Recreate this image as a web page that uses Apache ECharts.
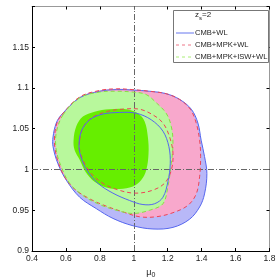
<!DOCTYPE html>
<html><head><meta charset="utf-8">
<script src="https://cdn.jsdelivr.net/npm/echarts@6/dist/echarts.min.js"></script>
<style>html,body{margin:0;padding:0;background:#fff}#c{width:277px;height:277px}</style>
</head><body><div id="c"></div>
<script>
const xTicks = [0.4,0.6,0.8,1,1.2,1.4,1.6,1.8];
const yTicks = [0.9,0.95,1,1.05,1.1,1.15,1.2];
const legendNames = ['CMB+WL','CMB+MPK+WL','CMB+MPK+ISW+WL'];

// CMB+WL 95%
const blueOuter = [[0.573,1.067],[0.681,1.088],[0.799,1.096],[0.897,1.098],[0.995,1.0975],[1.093,1.096],[1.191,1.093],[1.270,1.086],[1.339,1.074],[1.378,1.057],[1.397,1.036],[1.417,1.016],[1.431,0.995],[1.417,0.970],[1.388,0.954],[1.329,0.939],[1.231,0.929],[1.113,0.927],[0.995,0.931],[0.877,0.940],[0.779,0.952],[0.681,0.966],[0.602,0.987],[0.553,1.007],[0.524,1.028],[0.524,1.040],[0.543,1.057]];
// CMB+MPK+WL 95%
const pinkOuter = [[0.575,1.067],[0.681,1.089],[0.799,1.097],[0.897,1.099],[0.995,1.098],[1.093,1.096],[1.191,1.093],[1.270,1.086],[1.333,1.074],[1.368,1.057],[1.388,1.036],[1.394,1.016],[1.388,0.991],[1.368,0.970],[1.319,0.956],[1.231,0.947],[1.132,0.942],[1.034,0.942],[0.936,0.948],[0.838,0.955],[0.740,0.964],[0.651,0.976],[0.592,0.991],[0.553,1.010],[0.534,1.028],[0.534,1.043],[0.547,1.057]];
// CMB+MPK+ISW+WL 95%
const greenOuter = [[0.583,1.067],[0.681,1.088],[0.799,1.095],[0.897,1.096],[0.995,1.095],[1.073,1.092],[1.132,1.082],[1.191,1.069],[1.221,1.053],[1.231,1.032],[1.221,1.007],[1.201,0.979],[1.172,0.958],[1.093,0.950],[0.995,0.946],[0.897,0.950],[0.799,0.957],[0.700,0.968],[0.622,0.983],[0.573,1.003],[0.543,1.024],[0.543,1.045]];
// CMB+MPK+ISW+WL 68%
const greenInner = [[0.645,1.036],[0.661,1.053],[0.700,1.065],[0.769,1.071],[0.857,1.074],[0.956,1.074],[1.024,1.069],[1.064,1.059],[1.083,1.040],[1.087,1.020],[1.073,0.999],[1.044,0.987],[0.995,0.979],[0.916,0.976],[0.838,0.978],[0.769,0.985],[0.716,0.997],[0.681,1.012],[0.651,1.024]];
// CMB+MPK+WL 68%
const pinkInner = [[0.681,1.036],[0.700,1.051],[0.749,1.063],[0.838,1.071],[0.936,1.074],[1.034,1.074],[1.113,1.067],[1.172,1.057],[1.211,1.040],[1.231,1.020],[1.221,0.999],[1.181,0.983],[1.103,0.974],[1.005,0.971],[0.907,0.975],[0.818,0.983],[0.749,0.995],[0.704,1.010],[0.681,1.024]];
// CMB+WL 68%
const blueInner = [[0.677,1.028],[0.691,1.047],[0.740,1.061],[0.818,1.068],[0.916,1.070],[1.015,1.069],[1.103,1.061],[1.172,1.047],[1.207,1.028],[1.215,1.007],[1.201,0.985],[1.172,0.966],[1.123,0.958],[1.054,0.957],[0.975,0.962],[0.877,0.971],[0.789,0.983],[0.724,0.999],[0.691,1.014]];

const FONT = '"Liberation Sans",Arial,Helvetica,sans-serif';

function poly(pts, fill, stroke, dash, z) {
  return {
    type: 'custom', coordinateSystem: 'cartesian2d', silent: true, z: z,
    data: [pts[0]],
    renderItem: function (params, api) {
      return {
        type: 'polygon',
        shape: { points: pts.map(p => api.coord(p)), smooth: 0.35 },
        style: { fill: fill, stroke: stroke, lineWidth: 1, lineDash: dash }
      };
    }
  };
}

const chart = echarts.init(document.getElementById('c'), null, { renderer: 'canvas' });
const axisBase = {
  axisTick: { inside: true, length: 3, lineStyle: { color: '#000' } },
  splitLine: { show: false },
  axisLabel: { fontFamily: FONT, fontSize: 8.5, color: '#222', margin: 3 }
};
const legendColors = ['#6677ee', '#ee7788', '#aaee77'];
const legendDash = [null, [3, 3], [3, 3]];
const legendGraphics = [
  { type: 'rect', left: 173, top: 10, shape: { width: 95, height: 52 }, style: { fill: '#fff', stroke: '#777', lineWidth: 1 }, z: 100 },
  { type: 'text', left: 195, top: 11, style: { rich: { a: { fontFamily: FONT, fontSize: 8, fill: '#222' }, b: { fontFamily: FONT, fontSize: 6, fill: '#222', padding: [6, 0, 0, 0] } }, text: '{a|z}{b|s}{a|=2}' }, z: 101 }
];
legendNames.forEach((n, i) => {
  const y = 33 + i * 12;
  legendGraphics.push({ type: 'line', shape: { x1: 176, y1: y, x2: 194, y2: y }, style: { stroke: legendColors[i], lineWidth: 1, lineDash: legendDash[i] }, z: 101 });
  legendGraphics.push({ type: 'text', left: 195, top: y - 4.5, style: { text: n, fontFamily: FONT, fontSize: 7.6, fill: '#222' }, z: 101 });
});

chart.setOption({
  animation: false,
  grid: { left: 32, right: 7.5, top: 6.5, bottom: 26, containLabel: false, outerBoundsMode: 'none' },
  xAxis: [
    Object.assign({}, axisBase, { type: 'value', min: 0.4, max: 1.8, interval: 0.2,
      axisLine: { lineStyle: { color: '#000', width: 1 } },
      axisLabel: Object.assign({}, axisBase.axisLabel, { formatter: v => String(+v.toFixed(2)) }),
      name: '{a|μ}{b|0}', nameLocation: 'middle', nameGap: 11,
      nameTextStyle: { rich: { a: { fontFamily: FONT, fontSize: 9, color: '#222' }, b: { fontFamily: FONT, fontSize: 7, color: '#222', padding: [6, 0, 0, 0] } } } }),
    Object.assign({}, axisBase, { type: 'value', position: 'top', min: 0.4, max: 1.8, interval: 0.2,
      axisLine: { show: true, lineStyle: { color: '#999' } }, axisLabel: { show: false } })
  ],
  yAxis: [
    Object.assign({}, axisBase, { type: 'value', min: 0.9, max: 1.2, interval: 0.05,
      axisLine: { show: true, lineStyle: { color: '#000', width: 1 } },
      axisLabel: Object.assign({}, axisBase.axisLabel, { formatter: v => (Math.abs(v - 1.2) < 1e-6 ? '' : String(+v.toFixed(2))) }),
      name: '{a|Σ}{b|0}', nameLocation: 'middle', nameGap: 22, nameRotate: 90,
      nameTextStyle: { rich: { a: { fontFamily: FONT, fontSize: 9, color: '#222' }, b: { fontFamily: FONT, fontSize: 7, color: '#222', padding: [6, 0, 0, 0] } } } }),
    Object.assign({}, axisBase, { type: 'value', position: 'right', min: 0.9, max: 1.2, interval: 0.05,
      axisLine: { show: true, lineStyle: { color: '#999' } }, axisLabel: { show: false } })
  ],
  graphic: legendGraphics,
  series: [
    poly(blueOuter, '#b8b8f8', null, null, 1),
    poly(pinkOuter, '#f8a8cc', null, null, 2),
    poly(greenOuter, '#b8f89c', null, null, 3),
    poly(greenInner, '#66ee00', null, null, 4),
    poly(blueOuter, 'none', '#5566ee', null, 5),
    poly(pinkOuter, 'none', '#ee4455', [4, 3], 6),
    poly(greenOuter, 'none', '#88dd44', [4, 3], 7),
    poly(pinkInner, 'none', '#ee4455', [4, 3], 8),
    poly(blueInner, 'none', '#5566ee', null, 9),
    { type: 'line', silent: true, z: 10, data: [], symbol: 'none', markLine: { silent: true, symbol: 'none', label: { show: false },
        lineStyle: { color: '#666', type: [6, 2, 1, 2], width: 1 },
        data: [{ xAxis: 1 }, { yAxis: 1 }] } }
  ]
});
</script></body></html>
